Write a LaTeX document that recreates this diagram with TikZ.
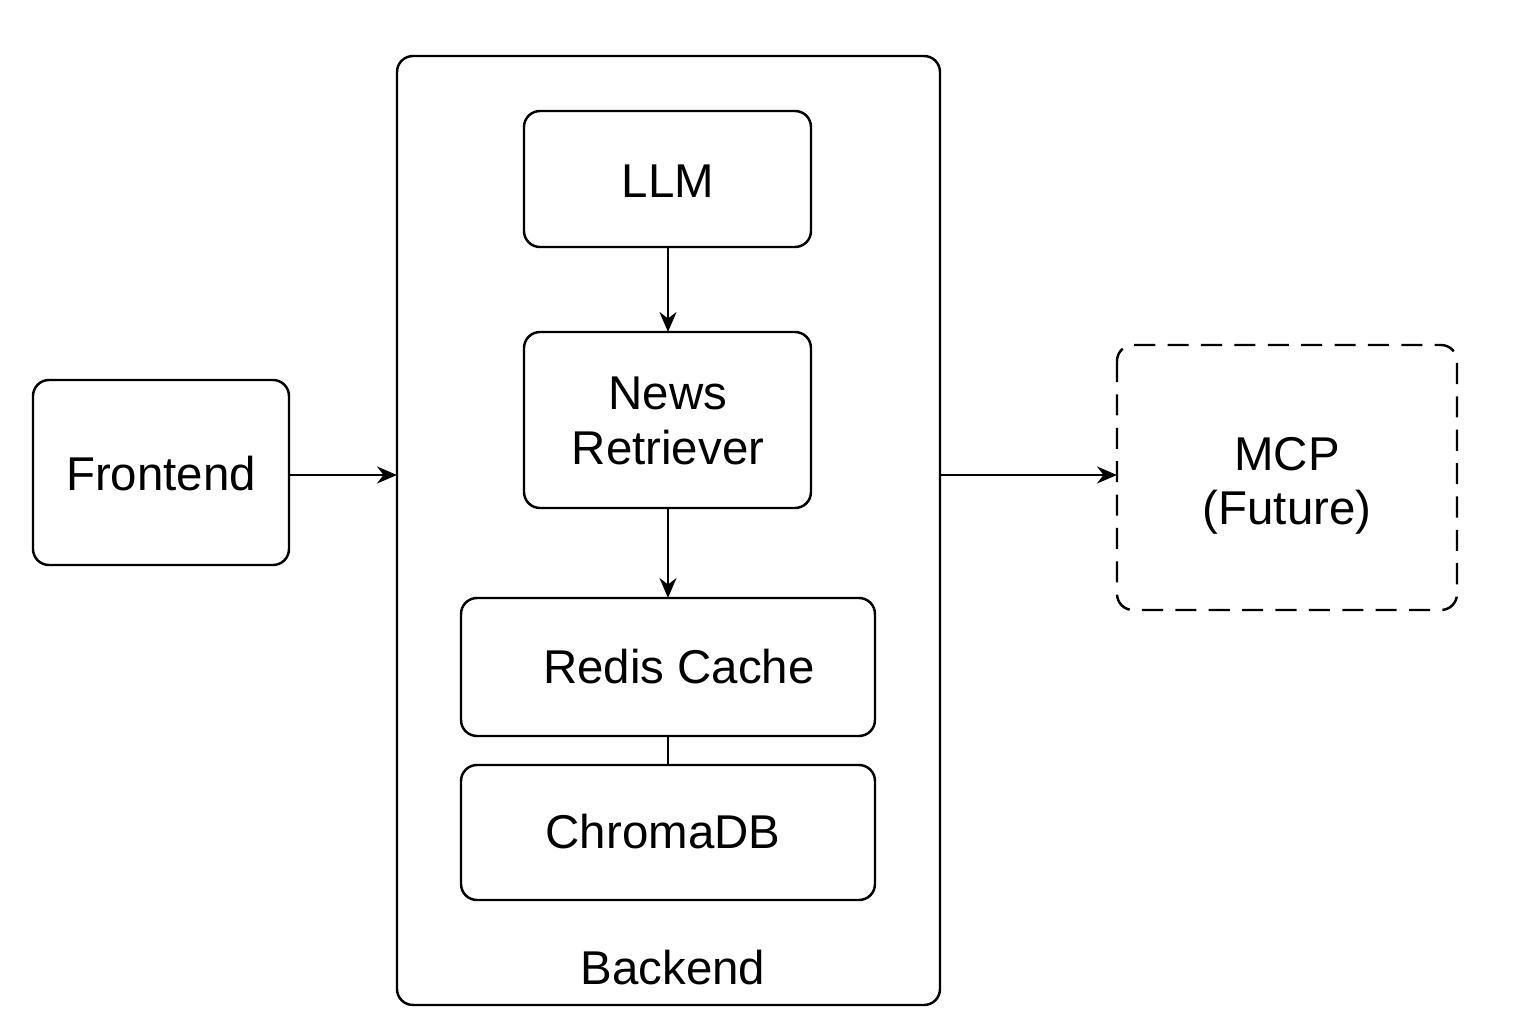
\documentclass[tikz,border=0pt]{standalone}
\usepackage{fontspec}
\setmainfont{Liberation Sans}
\usetikzlibrary{arrows.meta}
\begin{document}
\begin{tikzpicture}[x=0.02cm,y=-0.02cm,
  box/.style={draw=black,line width=1.4pt,rounded corners=0.32cm},
  lbl/.style={font=\fontsize{27}{31}\selectfont,align=center,inner sep=0pt},
  arr/.style={line width=1.2pt,-{Stealth[length=0.4cm,width=0.34cm]}}]
\useasboundingbox (0,0) rectangle (1536,1024);
\fill[white] (0,0) rectangle (1536,1024);
% containers
\draw[box] (397,56) rectangle (940,1005);
\coordinate (bkL) at (397,475);
\coordinate (bkR) at (940,475);
\node[lbl] (bklabel) at (673,968) {Backend};
% nodes
\draw[box] (33,380) rectangle (289,565);
\node[lbl] (fe) at (161,474) {Frontend};
\coordinate (feR) at (289,475);
\draw[box] (524,111) rectangle (811,247);
\node[lbl] (llm) at (668,181) {LLM};
\coordinate (llmB) at (668,247);
\draw[box] (524,332) rectangle (811,508);
\node[lbl] (nr) at (668,421) {News\\Retriever};
\coordinate (nrT) at (668,332);
\coordinate (nrB) at (668,508);
\draw[box] (461,598) rectangle (875,736);
\node[lbl] (rc) at (679,667) {Redis Cache};
\coordinate (rcT) at (668,598);
\coordinate (rcB) at (668,736);
\draw[box] (461,765) rectangle (875,900);
\node[lbl] (cdb) at (663,832) {ChromaDB};
\coordinate (cdbT) at (668,765);
\draw[box,dashed,dash pattern=on 12pt off 7pt] (1117,345) rectangle (1457,610);
\node[lbl] (mcp) at (1287,486) {MCP\\(Future)};
\coordinate (mcpL) at (1117,475);
% connectors
\draw[arr] (feR) -- (bkL);
\draw[arr] (bkR) -- (mcpL);
\draw[arr] (llmB) -- (nrT);
\draw[arr] (nrB) -- (rcT);
\draw[line width=1.2pt] (rcB) -- (cdbT);
\end{tikzpicture}
\end{document}
